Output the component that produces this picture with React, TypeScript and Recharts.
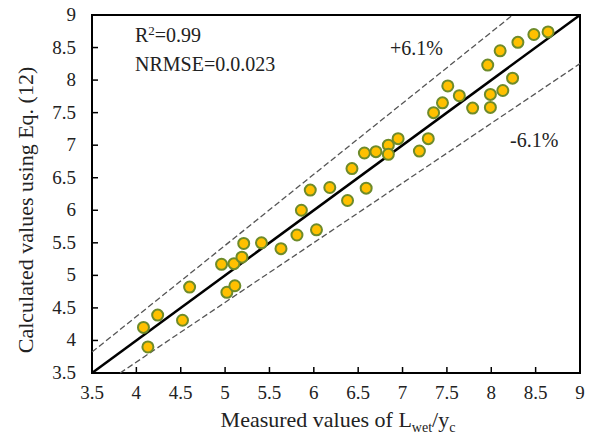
import React from 'react';
import { ScatterChart, Scatter, XAxis, YAxis, ReferenceLine, ReferenceArea, Customized } from 'recharts';

const measured = [4.08, 4.24, 4.13, 4.52, 4.60, 4.96, 5.02, 5.10, 5.11, 5.19, 5.21, 5.41, 5.63, 5.81, 5.86, 6.03, 5.96, 6.18, 6.38, 6.59, 6.43, 6.57, 6.70, 6.84, 6.84, 6.95, 7.19, 7.29, 7.35, 7.45, 7.51, 7.64, 7.79, 7.96, 7.99, 7.99, 8.10, 8.13, 8.24, 8.30, 8.48, 8.64];
const calculated = [4.20, 4.39, 3.90, 4.31, 4.82, 5.17, 4.74, 5.18, 4.84, 5.28, 5.49, 5.50, 5.41, 5.62, 6.00, 5.70, 6.31, 6.35, 6.15, 6.34, 6.64, 6.88, 6.90, 7.00, 6.86, 7.10, 6.91, 7.10, 7.50, 7.65, 7.91, 7.76, 7.57, 8.23, 7.58, 7.78, 8.45, 7.84, 8.03, 8.58, 8.70, 8.74];
const ticks = [3.5, 4, 4.5, 5, 5.5, 6, 6.5, 7, 7.5, 8, 8.5, 9];
const axisMin = 3.5;
const axisMax = 9;
const upperFactor = 1.092;
const lowerFactor = 0.917;

const data = measured.map((x, i) => ({ x, y: calculated[i] }));

const FONT = '"Liberation Serif", "Times New Roman", serif';
const YM = 16;
const XM = 26;

const YTick = (props: any) => {
  const { x, y, payload } = props;
  return (
    <g>
      <line x1={x + YM} x2={x + YM + 6} y1={y} y2={y} stroke="#000" strokeWidth={1.5} />
      <text x={x} y={y} dy={6} textAnchor="end" fontFamily={FONT} fontSize={19} fill="#222">{String(payload.value)}</text>
    </g>
  );
};

const XTick = (props: any) => {
  const { x, y, payload } = props;
  return (
    <g>
      <line x1={x} x2={x} y1={y - XM} y2={y - XM - 6} stroke="#000" strokeWidth={1.5} />
      <text x={x} y={y} textAnchor="middle" fontFamily={FONT} fontSize={19} fill="#222">{String(payload.value)}</text>
    </g>
  );
};

const Dot = (props: any) => {
  const { cx, cy } = props;
  return <circle cx={cx} cy={cy} r={5.5} fill="#FFC000" stroke="#6E8B2A" strokeWidth={2} />;
};

const Texts = () => (
  <g fontFamily={FONT} fill="#222">
    <text x={135} y={42} fontSize={20}>R<tspan dy={-7} fontSize={13}>2</tspan><tspan dy={7}>=0.99</tspan></text>
    <text x={135} y={71} fontSize={20}>NRMSE=0.0.023</text>
    <text x={390} y={55} fontSize={20}>+6.1%</text>
    <text x={510} y={147} fontSize={20}>-6.1%</text>
    <text x={338} y={427} fontSize={22} textAnchor="middle">Measured values of L<tspan dy={5} fontSize={14}>wet</tspan><tspan dy={-5}>/y</tspan><tspan dy={5} fontSize={14}>c</tspan></text>
    <text x={0} y={0} fontSize={22} textAnchor="middle" transform="translate(33,210) rotate(-90)">Calculated values using Eq. (12)</text>
  </g>
);

export default function App() {
  return (
    <div style={{ position: 'absolute', left: 0, top: 0, background: '#fff' }}>
      <ScatterChart width={589} height={441} margin={{ top: 15, right: 9, bottom: 38, left: 32 }}>
        <XAxis type="number" dataKey="x" domain={[axisMin, axisMax]} ticks={ticks} axisLine={false} tickLine={false} tickSize={0} tickMargin={XM} tick={<XTick />} height={30} allowDataOverflow />
        <YAxis type="number" dataKey="y" domain={[axisMin, axisMax]} ticks={ticks} axisLine={false} tickLine={false} tickSize={0} tickMargin={YM} tick={<YTick />} width={60} allowDataOverflow />
        <ReferenceLine segment={[{ x: axisMin, y: axisMin * upperFactor }, { x: axisMax / upperFactor, y: axisMax }]} stroke="#555" strokeWidth={1.3} strokeDasharray="6 3" />
        <ReferenceLine segment={[{ x: axisMin / lowerFactor, y: axisMin }, { x: axisMax, y: axisMax * lowerFactor }]} stroke="#555" strokeWidth={1.3} strokeDasharray="6 3" />
        <ReferenceLine segment={[{ x: axisMin, y: axisMin }, { x: axisMax, y: axisMax }]} stroke="#000" strokeWidth={2.5} />
        <ReferenceArea x1={axisMin} x2={axisMax} y1={axisMin} y2={axisMax} fill="none" fillOpacity={0} stroke="#000" strokeWidth={2} />
        <Scatter data={data} shape={<Dot />} isAnimationActive={false} />
        <Customized component={Texts} />
      </ScatterChart>
    </div>
  );
}
